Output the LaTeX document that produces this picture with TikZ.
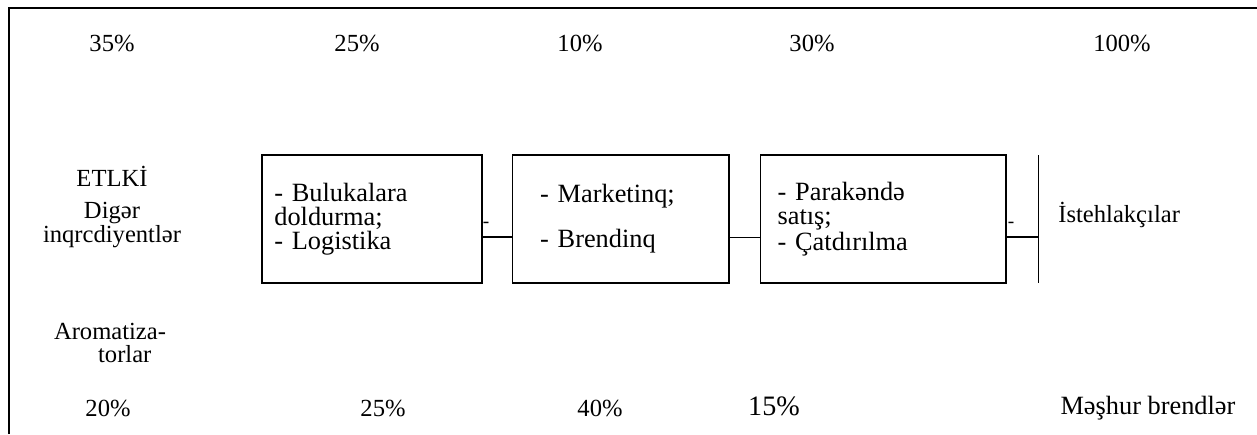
\documentclass[tikz,border=0pt]{standalone}
\usepackage{fontspec}
\setmainfont{Liberation Serif}
\usetikzlibrary{positioning,calc}

\begin{document}
\begin{tikzpicture}[
    x=0.02cm, y=-0.02cm,
    label/.style={inner sep=0pt, font=\fontsize{14}{13.6}\selectfont, align=center},
    stage/.style={rectangle, draw=black, line width=0.6pt, minimum height=2.56cm,
                  align=left, font=\fontsize{15}{13.6}\selectfont},
    link/.style={draw=black, line width=1.1pt},
    thinlink/.style={draw=black, line width=0.5pt},
    tick/.style={inner sep=0pt, font=\fontsize{11}{11}\selectfont}
]
    \useasboundingbox (0,0) rectangle (1257,434);

    % Frame
    \draw[line width=1.4pt] (9,434) -- (9,8) -- (1257,8);

    % Shares, top row
    \node (pctA) [label] at (112,43) {35\%};
    \node (pctB) [label] at (357,43) {25\%};
    \node (pctC) [label] at (580,43) {10\%};
    \node (pctD) [label] at (812,43) {30\%};
    \node (pctE) [label] at (1122,43) {100\%};

    % Ingredients
    \node (etlki) [label] at (112,176) {ETLKİ};
    \node (diger) [label] at (112,225) {Digər\\inqrcdiyentlər};
    \node (aroma) [label] at (110,343) {Aromatiza-\\\hspace*{1.2em}torlar};

    % Stages
    \node (fill) [stage, minimum width=4.4cm, text width=4.4cm-14pt, inner xsep=7pt]
        at (372,219) {- Bulukalara\\doldurma;\\- Logistika};
    \node (market) [stage, minimum width=4.34cm, text width=4.34cm-32pt, inner xsep=16pt]
        at (620.5,219) {- Marketinq;\\[11pt]- Brendinq};
    \node (retail) [stage, minimum width=4.92cm, text width=4.92cm-20pt, inner xsep=10pt]
        at (883,219) {- Parakəndə\\satış;\\- Çatdırılma};

    % Consumers
    \coordinate (vtop) at (1038,155);
    \coordinate (vbot) at (1038,283);
    \coordinate (vmid) at (1038,237);
    \draw[thinlink] (vtop) -- (vbot);
    \node (cons) [label, anchor=west] at (1058,215) {İstehlakçılar};

    % Connectors
    \draw[link] (fill.east |- vmid) -- (market.west |- vmid);
    \draw[thinlink] (market.east |- vmid) -- (retail.west |- vmid);
    \draw[link] (retail.east |- vmid) -- (vmid);
    \node (tickA) [tick] at (486,225) {-};
    \node (tickB) [tick] at (1011,225) {-};

    % Shares, bottom row
    \node (pctF) [label] at (108,408) {20\%};
    \node (pctG) [label] at (383,408) {25\%};
    \node (pctH) [label] at (600,408) {40\%};
    \node (pctI) [label, font=\fontsize{16}{16}\selectfont] at (774,406) {15\%};
    \node (brands) [label, font=\fontsize{15}{15}\selectfont] at (1148,408) {Məşhur brendlər};
\end{tikzpicture}
\end{document}
